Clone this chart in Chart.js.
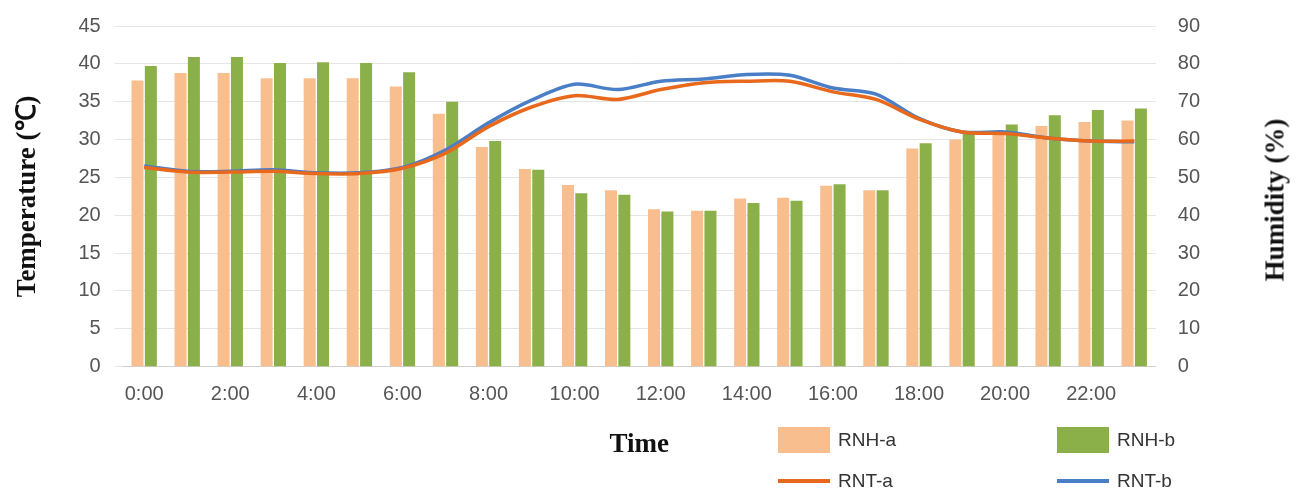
<!DOCTYPE html>
<html>
<head>
<meta charset="utf-8">
<script src="https://cdn.jsdelivr.net/npm/chart.js@4"></script>
<style>
  body { margin: 0; background: #fff; }
  #wrap { position: relative; width: 1302px; height: 499px; }
  .leg { position: absolute; font: 19px "Liberation Sans", Arial, sans-serif; color: #333; display: flex; align-items: center; }
  .sw { display: inline-block; margin-right: 8px; }
  #rtitle { position: absolute; left: 1275px; top: 200px; transform: translate(-50%, -50%) rotate(-90deg);
            font: bold 27px "Liberation Serif", "Times New Roman", serif; color: #111; white-space: nowrap; }
</style>
</head>
<body>
<div id="wrap">
  <canvas id="chart" width="1302" height="499"></canvas>
  <div id="rtitle">Humidity (%)</div>
  <div class="leg" style="left:778px;top:427px"><span class="sw" style="width:52px;height:26px;background:#F8BE8E"></span>RNH-a</div>
  <div class="leg" style="left:1057px;top:427px"><span class="sw" style="width:52px;height:26px;background:#8BB04A"></span>RNH-b</div>
  <div class="leg" style="left:778px;top:470px"><span class="sw" style="width:52px;height:4px;background:#E8681C"></span>RNT-a</div>
  <div class="leg" style="left:1057px;top:470px"><span class="sw" style="width:52px;height:4px;background:#4A7EC6"></span>RNT-b</div>
</div>
<script>
// hourly categories
const hours = [];
for (let h = 0; h < 24; h++) hours.push(h + ':00');

// humidity bars (%)
const rnhA = [75.6, 77.6, 77.6, 76.2, 76.2, 76.2, 74, 66.8, 58, 52.2, 48, 46.6, 41.6, 41.2, 44.4, 44.6, 47.8, 46.6, 57.6, 60, 62, 63.6, 64.6, 65];
const rnhB = [79.4, 81.8, 81.8, 80.2, 80.4, 80.2, 77.8, 70, 59.6, 52, 45.8, 45.4, 41, 41.2, 43.2, 43.8, 48.2, 46.6, 59, 62, 64, 66.4, 67.8, 68.2];

// temperature lines (°C)
const rntA = [26.3, 25.7, 25.7, 25.8, 25.5, 25.5, 26.2, 28.2, 31.7, 34.3, 35.8, 35.3, 36.6, 37.5, 37.7, 37.7, 36.3, 35.3, 32.7, 31, 30.8, 30.2, 29.8, 29.8];
const rntB = [26.5, 25.8, 25.8, 26, 25.6, 25.6, 26.3, 28.6, 32.2, 35.2, 37.3, 36.6, 37.7, 38, 38.6, 38.5, 36.8, 36, 32.8, 31, 31, 30.2, 29.8, 29.7];

const tickFont = { family: 'Liberation Sans, Arial, sans-serif', size: 20 };
const titleFont = { family: 'Liberation Serif, Times New Roman, serif', size: 27, weight: 'bold' };

new Chart(document.getElementById('chart').getContext('2d'), {
    type: 'bar',
    data: {
        labels: hours,
        datasets: [
            { type: 'line', label: 'RNT-a', data: rntA, yAxisID: 'y', borderColor: '#E8681C', borderWidth: 3.5, pointRadius: 0, tension: 0.3, order: 0 },
            { type: 'line', label: 'RNT-b', data: rntB, yAxisID: 'y', borderColor: '#4A7EC6', borderWidth: 3.5, pointRadius: 0, tension: 0.3, order: 0 },
            { label: 'RNH-a', data: rnhA, yAxisID: 'y1', backgroundColor: '#F8BE8E', categoryPercentage: 0.62, barPercentage: 0.9, order: 1 },
            { label: 'RNH-b', data: rnhB, yAxisID: 'y1', backgroundColor: '#8BB04A', categoryPercentage: 0.62, barPercentage: 0.9, order: 1 }
        ]
    },
    options: {
        responsive: false,
        animation: false,
        layout: { padding: { top: 22, right: 88, left: 8, bottom: 34 } },
        plugins: { legend: { display: false }, tooltip: { enabled: false } },
        scales: {
            x: {
                grid: { display: false },
                border: { color: '#d0d0d0' },
                ticks: {
                    font: tickFont, color: '#555', autoSkip: false, maxRotation: 0, padding: 8,
                    callback: function (v, i) { return i % 2 === 0 ? hours[i] : ''; }
                },
                title: { display: true, text: 'Time', font: titleFont, color: '#111', padding: { top: 14 } }
            },
            y: {
                position: 'left', min: 0, max: 45,
                ticks: { stepSize: 5, font: tickFont, color: '#555', padding: 14 },
                grid: { color: '#e4e4e4' },
                border: { display: false },
                title: { display: true, text: 'Temperature (℃)', font: titleFont, color: '#111', padding: { bottom: 20 } }
            },
            y1: {
                position: 'right', min: 0, max: 90,
                ticks: { stepSize: 10, font: tickFont, color: '#555', padding: 14 },
                grid: { display: false },
                border: { display: false }
            }
        }
    }
});
</script>
</body>
</html>
